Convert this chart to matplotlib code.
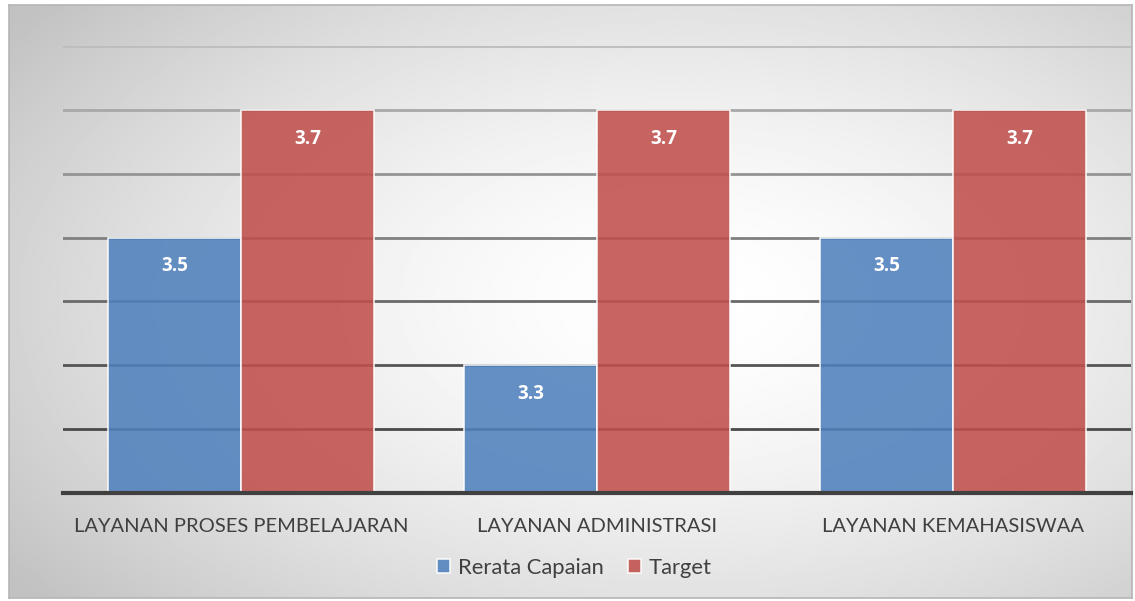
import numpy as np
import matplotlib.pyplot as plt

categories = ["LAYANAN PROSES PEMBELAJARAN", "LAYANAN ADMINISTRASI", "LAYANAN KEMAHASISWAA"]
rerata = [3.5, 3.3, 3.5]
target = [3.7, 3.7, 3.7]
series_names = ["Rerata Capaian", "Target"]
grid_levels = [3.2, 3.3, 3.4, 3.5, 3.6, 3.7, 3.8]

plt.rcParams['font.family'] = ['Lato', 'DejaVu Sans']

W, H = 1135, 601
fig = plt.figure(figsize=(W / 100, H / 100), dpi=100)
fig.patch.set_facecolor('white')

# radial grey background inside the frame
bg = fig.add_axes([9 / W, 3 / H, (1132 - 9) / W, (598 - 5) / H])
yy, xx = np.mgrid[0:1:300j, 0:1:600j]
r = np.sqrt(((xx - 0.6) / 0.7) ** 2 + ((yy - 0.5) / 0.75) ** 2)
shade = np.clip(1.0 - 0.22 * r ** 1.6, 0.76, 1.0)
bg.imshow(shade, cmap='gray', vmin=0, vmax=1, aspect='auto', extent=[0, 1, 0, 1])
bg.set_xticks([])
bg.set_yticks([])
for s in bg.spines.values():
    s.set_color('#b5b5b5')
    s.set_linewidth(1.2)

ax = fig.add_axes([63 / W, 108 / H, (1131 - 63) / W, (493 - 46) / H])
ax.patch.set_alpha(0)
x = np.arange(len(categories))
w = 0.374

# gridlines, darker toward the bottom
grid_cols = ['#4a4a4a', '#555555', '#6a6a6a', '#808080', '#949494', '#a8a8a8', '#bdbdbd']
for lv, c in zip(grid_levels, grid_cols):
    ax.axhline(lv, color=c, lw=2, zorder=1)

b1 = ax.bar(x - w / 2, rerata, w, bottom=0, color='#4f81bd', alpha=0.88,
            edgecolor='white', linewidth=1.2, zorder=2, label=series_names[0])
b2 = ax.bar(x + w / 2, target, w, bottom=0, color='#c0504d', alpha=0.88,
            edgecolor='white', linewidth=1.2, zorder=2, label=series_names[1])

for bars, vals in ((b1, rerata), (b2, target)):
    for rect, v in zip(bars, vals):
        ax.text(rect.get_x() + rect.get_width() / 2, v - 0.045, f"{v:.1f}",
                ha='center', va='center', color='white', fontsize=13.5,
                fontweight='bold', family=['Open Sans', 'DejaVu Sans'], zorder=3)

ax.set_ylim(3.1, 3.8)
ax.set_xlim(-0.5, 2.5)
ax.set_yticks([])
ax.set_xticks(x)
ax.set_xticklabels(categories, fontsize=14.5, color='#404040')
ax.tick_params(axis='x', length=0, pad=18)
for s in ['top', 'right', 'left']:
    ax.spines[s].set_visible(False)
ax.spines['bottom'].set_color('#404040')
ax.spines['bottom'].set_linewidth(3)
ax.spines['bottom'].set_zorder(4)

leg = ax.legend(loc='center', bbox_to_anchor=(0.479, -0.167), ncol=2, frameon=False,
                fontsize=15.8, handlelength=0.6, handleheight=0.6,
                handletextpad=0.35, columnspacing=1.1, labelcolor='#404040')

fig.savefig('out.png', dpi=100)
